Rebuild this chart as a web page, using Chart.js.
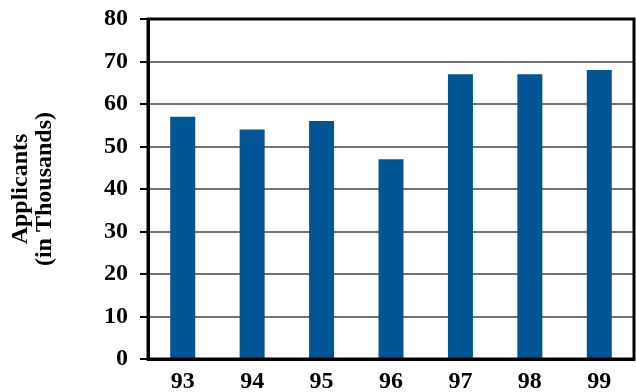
<!DOCTYPE html>
<html>
<head>
<meta charset="utf-8">
<script src="https://cdn.jsdelivr.net/npm/chart.js@4/dist/chart.umd.min.js"></script>
<style>
  html, body { margin: 0; padding: 0; background: #fff; }
  #wrap { width: 636px; height: 392px; }
</style>
</head>
<body>
<div id="wrap"><canvas id="c" width="636" height="392"></canvas></div>
<script>
// Applicants per year, in thousands
const years = ['93', '94', '95', '96', '97', '98', '99'];
const applicants = [57, 54, 56, 47, 67, 67, 68];
const yTitle = ['Applicants', '(in Thousands)'];

const serif = "'Liberation Serif', 'Times New Roman', Times, serif";

// Black frame around the plot area (top and right sides close the box)
const frame = {
  id: 'frame',
  afterDraw(chart) {
    const { ctx, chartArea: a } = chart;
    ctx.save();
    ctx.strokeStyle = '#000';
    ctx.lineWidth = 3;
    ctx.strokeRect(a.left, a.top, a.right - a.left, a.bottom - a.top);
    ctx.restore();
  }
};

new Chart(document.getElementById('c'), {
  type: 'bar',
  data: {
    labels: years,
    datasets: [{
      data: applicants,
      backgroundColor: '#005594',
      borderWidth: 0,
      barPercentage: 0.36,
      categoryPercentage: 1
    }]
  },
  options: {
    responsive: false,
    devicePixelRatio: 1,
    animation: false,
    layout: { padding: { top: 19, right: 2, left: 0, bottom: 0 } },
    plugins: { legend: { display: false }, tooltip: { enabled: false }, title: { display: false } },
    scales: {
      x: {
        afterFit(scale) { scale.height = 33; scale.paddingLeft = 0; scale.paddingRight = 0; },
        grid: { display: false, drawTicks: false },
        border: { display: true, color: '#000', width: 3 },
        ticks: {
          color: '#000',
          padding: 8,
          font: { family: serif, size: 24, weight: 'bold' }
        }
      },
      y: {
        min: 0,
        max: 80,
        z: 1,
        afterFit(scale) { scale.width = 148; scale.paddingTop = 0; scale.paddingBottom = 0; },
        grid: {
          color: 'rgba(0,0,0,0.55)',
          lineWidth: 2,
          tickColor: '#000',
          tickLength: 8,
          drawOnChartArea: true
        },
        border: { display: true, color: '#000', width: 3 },
        ticks: {
          stepSize: 10,
          color: '#000',
          padding: 12,
          font: { family: serif, size: 24, weight: 'bold' }
        },
        title: {
          display: true,
          text: yTitle,
          color: '#000',
          padding: { top: 9.5, bottom: 0 },
          font: { family: serif, size: 24, weight: 'bold', lineHeight: 0.97 }
        }
      }
    }
  },
  plugins: [frame]
});
</script>
</body>
</html>
